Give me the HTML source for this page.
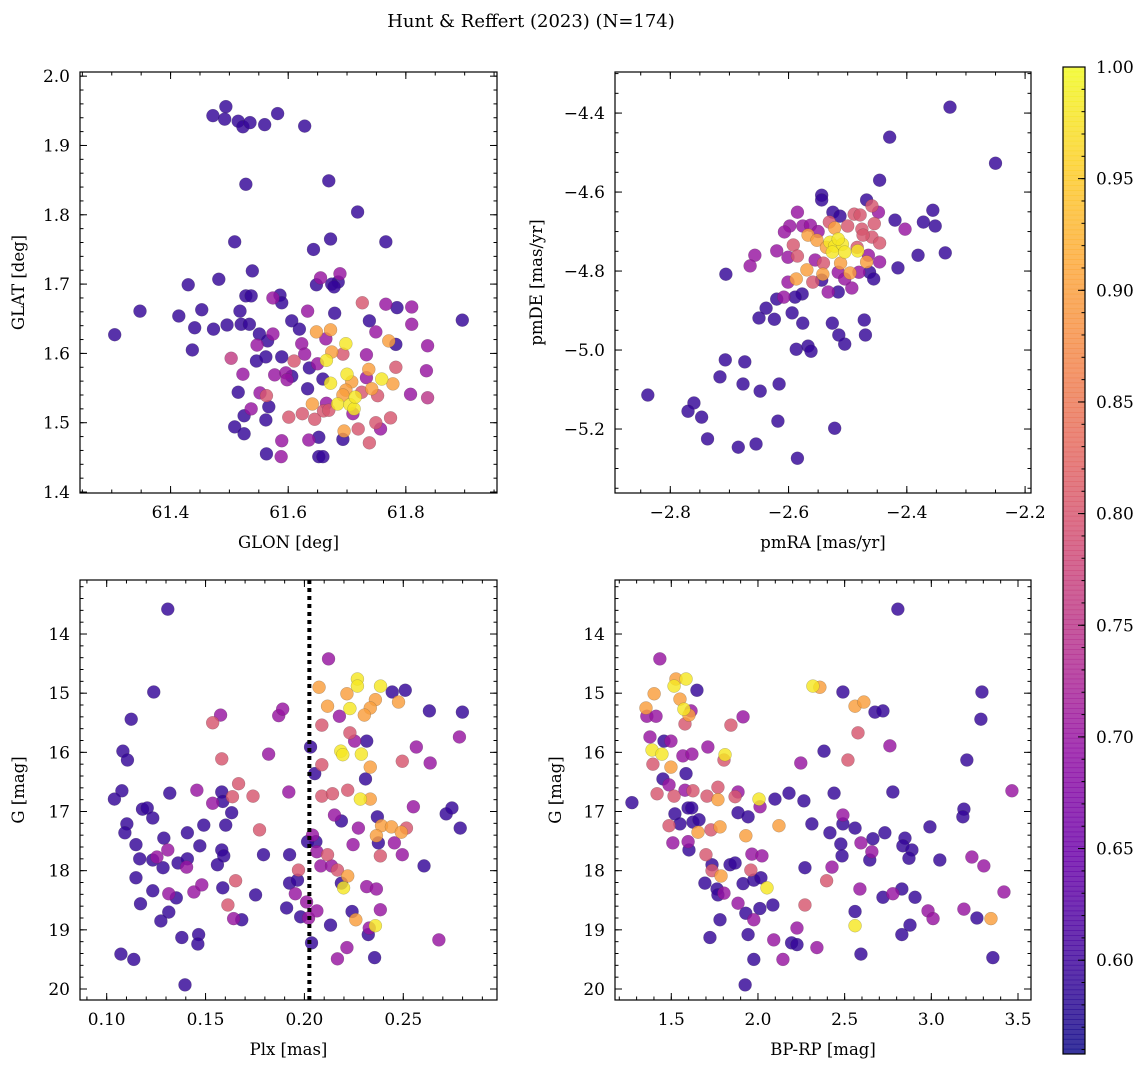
<!DOCTYPE html>
<html><head><meta charset="utf-8"><style>
html,body{margin:0;padding:0;background:#fff;}
svg{display:block;font-family:"DejaVu Serif","Liberation Serif",serif;}
</style></head><body>
<svg id="fig" width="1148" height="1067" viewBox="0 0 1148 1067" xmlns="http://www.w3.org/2000/svg">
<text x="531" y="27" font-size="18" text-anchor="middle">Hunt &amp; Reffert (2023) (N=174)</text>
</svg>
<script>
const d=0.59,m=0.70,pk=0.80,o=0.90,y=0.98;
const rowsGlonGlat=[[61.472,1.943,d],[61.494,1.956,d],[61.492,1.938,d],[61.515,1.935,d],[61.523,1.927,d],[61.535,1.933,d],[61.560,1.930,d],[61.582,1.946,d],[61.628,1.928,d],[61.528,1.844,d],[61.669,1.849,d],[61.718,1.804,d],[61.509,1.761,d],[61.672,1.765,d],[61.766,1.761,d],[61.643,1.750,d],[61.539,1.719,d],[61.430,1.699,d],[61.685,1.703,d],[61.648,1.699,d],[61.655,1.709,m],[61.674,1.700,d],[61.482,1.707,d],[61.528,1.683,d],[61.537,1.683,d],[61.574,1.680,m],[61.586,1.684,d],[61.589,1.673,d],[61.348,1.661,d],[61.305,1.627,d],[61.414,1.654,d],[61.453,1.663,d],[61.441,1.637,d],[61.437,1.605,d],[61.473,1.635,d],[61.496,1.641,d],[61.518,1.661,d],[61.520,1.642,d],[61.534,1.642,d],[61.551,1.628,d],[61.574,1.628,m],[61.547,1.612,m],[61.565,1.618,d],[61.503,1.593,0.76],[61.546,1.589,d],[61.562,1.595,d],[61.589,1.595,d],[61.606,1.647,d],[61.619,1.635,d],[61.633,1.661,m],[61.678,1.696,d],[61.688,1.715,m],[61.679,1.658,d],[61.726,1.673,pk],[61.766,1.671,m],[61.785,1.666,d],[61.810,1.667,m],[61.810,1.642,m],[61.738,1.647,d],[61.749,1.631,m],[61.896,1.648,d],[61.837,1.611,m],[61.835,1.575,m],[61.837,1.536,0.75],[61.808,1.541,m],[61.783,1.613,d],[61.771,1.618,o],[61.783,1.580,pk],[61.778,1.556,o],[61.774,1.507,pk],[61.749,1.500,pk],[61.757,1.491,m],[61.738,1.471,pk],[61.719,1.491,pk],[61.693,1.476,d],[61.695,1.488,o],[61.652,1.479,d],[61.635,1.475,m],[61.652,1.451,d],[61.659,1.451,d],[61.589,1.474,m],[61.588,1.451,m],[61.563,1.455,d],[61.601,1.508,pk],[61.624,1.513,pk],[61.645,1.505,pk],[61.660,1.517,pk],[61.641,1.527,o],[61.684,1.527,y],[61.705,1.526,y],[61.712,1.520,y],[61.710,1.513,m],[61.665,1.528,m],[61.509,1.494,d],[61.525,1.484,d],[61.525,1.510,d],[61.537,1.520,m],[61.562,1.504,d],[61.567,1.523,d],[61.515,1.544,d],[61.552,1.543,m],[61.563,1.539,pk],[61.523,1.570,m],[61.577,1.569,m],[61.596,1.572,m],[61.598,1.562,m],[61.606,1.567,d],[61.610,1.589,pk],[61.623,1.614,m],[61.628,1.599,m],[61.636,1.579,d],[61.633,1.549,d],[61.648,1.631,o],[61.672,1.634,o],[61.664,1.621,m],[61.650,1.585,m],[61.665,1.590,y],[61.698,1.614,y],[61.674,1.602,o],[61.693,1.599,pk],[61.733,1.598,m],[61.659,1.563,d],[61.672,1.557,y],[61.700,1.570,y],[61.737,1.577,o],[61.759,1.563,y],[61.742,1.549,o],[61.708,1.559,o],[61.698,1.547,o],[61.714,1.537,y],[61.725,1.544,pk],[61.752,1.539,pk],[61.693,1.540,o],[61.733,1.565,m],[61.669,1.518,pk]];
const rowsPm=[[-2.327,-4.385,d],[-2.429,-4.461,d],[-2.250,-4.527,d],[-2.446,-4.570,d],[-2.544,-4.608,d],[-2.544,-4.620,d],[-2.468,-4.620,d],[-2.356,-4.646,d],[-2.372,-4.676,d],[-2.352,-4.686,d],[-2.420,-4.671,d],[-2.403,-4.694,m],[-2.381,-4.760,d],[-2.335,-4.754,d],[-2.415,-4.792,d],[-2.585,-4.651,m],[-2.525,-4.651,d],[-2.489,-4.656,pk],[-2.479,-4.658,pk],[-2.459,-4.635,pk],[-2.448,-4.651,m],[-2.598,-4.686,m],[-2.607,-4.701,m],[-2.576,-4.686,m],[-2.563,-4.684,m],[-2.620,-4.749,m],[-2.592,-4.734,pk],[-2.567,-4.709,o],[-2.552,-4.722,o],[-2.531,-4.676,pk],[-2.522,-4.691,o],[-2.513,-4.661,d],[-2.500,-4.686,pk],[-2.476,-4.694,pk],[-2.459,-4.714,pk],[-2.446,-4.729,pk],[-2.474,-4.709,pk],[-2.550,-4.70,m],[-2.484,-4.74,pk],[-2.465,-4.76,m],[-2.541,-4.78,pk],[-2.512,-4.78,o],[-2.455,-4.68,pk],[-2.530,-4.727,y],[-2.522,-4.737,y],[-2.509,-4.732,y],[-2.526,-4.752,y],[-2.505,-4.752,y],[-2.483,-4.749,y],[-2.516,-4.719,y],[-2.536,-4.740,o],[-2.657,-4.760,m],[-2.665,-4.787,m],[-2.706,-4.808,d],[-2.601,-4.765,m],[-2.585,-4.762,pk],[-2.555,-4.772,m],[-2.569,-4.797,o],[-2.542,-4.808,o],[-2.587,-4.820,o],[-2.601,-4.828,m],[-2.559,-4.828,pk],[-2.544,-4.823,d],[-2.516,-4.803,m],[-2.496,-4.805,o],[-2.481,-4.803,m],[-2.468,-4.777,o],[-2.446,-4.777,m],[-2.463,-4.803,d],[-2.456,-4.820,d],[-2.493,-4.843,m],[-2.516,-4.853,d],[-2.533,-4.853,m],[-2.505,-4.820,m],[-2.577,-4.858,d],[-2.589,-4.866,d],[-2.608,-4.866,m],[-2.620,-4.871,d],[-2.638,-4.894,d],[-2.650,-4.919,d],[-2.624,-4.922,d],[-2.594,-4.906,d],[-2.576,-4.932,d],[-2.526,-4.932,d],[-2.472,-4.924,d],[-2.515,-4.962,d],[-2.505,-4.985,d],[-2.470,-4.962,d],[-2.587,-4.998,d],[-2.567,-4.990,d],[-2.562,-5.003,d],[-2.707,-5.025,d],[-2.674,-5.030,d],[-2.716,-5.068,d],[-2.677,-5.086,d],[-2.648,-5.104,d],[-2.616,-5.086,d],[-2.838,-5.114,d],[-2.760,-5.134,d],[-2.770,-5.155,d],[-2.747,-5.170,d],[-2.618,-5.180,d],[-2.522,-5.198,d],[-2.737,-5.225,d],[-2.685,-5.246,d],[-2.655,-5.238,d],[-2.585,-5.274,d]];
const rowsPlxG=[[0.1309,13.58,d],[0.1238,14.98,d],[0.1124,15.44,d],[0.1082,15.98,d],[0.1105,16.13,d],[0.1077,16.65,d],[0.1039,16.79,d],[0.1319,16.69,d],[0.1181,16.96,d],[0.1205,16.94,d],[0.1233,17.11,d],[0.1102,17.21,d],[0.1092,17.36,d],[0.1148,17.56,d],[0.1289,17.45,d],[0.1309,17.65,m],[0.1408,17.36,d],[0.1491,17.23,d],[0.1471,17.58,d],[0.1167,17.80,d],[0.1233,17.82,d],[0.1254,17.77,m],[0.1285,17.95,d],[0.1361,17.87,d],[0.1408,17.80,d],[0.1404,17.94,m],[0.1148,18.12,d],[0.1233,18.34,d],[0.1314,18.39,m],[0.1352,18.46,d],[0.1441,18.36,m],[0.1481,18.24,m],[0.1171,18.56,d],[0.1314,18.70,d],[0.1274,18.85,d],[0.1380,19.13,d],[0.1465,19.08,d],[0.1461,19.24,d],[0.1072,19.41,d],[0.1137,19.50,d],[0.1396,19.93,d],[0.1536,15.50,pk],[0.1576,15.37,m],[0.1582,16.11,pk],[0.1456,16.64,m],[0.1582,16.67,d],[0.1536,16.86,m],[0.1587,16.83,d],[0.1667,16.53,pk],[0.1636,16.75,pk],[0.1740,16.74,pk],[0.1632,17.02,d],[0.1602,17.23,d],[0.1773,17.31,pk],[0.1582,17.65,d],[0.1592,17.75,d],[0.1560,17.90,d],[0.1793,17.73,d],[0.1925,17.73,d],[0.1652,18.17,pk],[0.1587,18.29,d],[0.1753,18.41,d],[0.1613,18.58,pk],[0.1642,18.81,m],[0.1683,18.83,d],[0.1819,16.03,m],[0.1870,15.38,m],[0.1890,15.27,m],[0.1921,16.67,m],[0.1910,18.63,d],[0.1925,18.21,d],[0.1965,18.16,d],[0.1970,17.99,pk],[0.1954,18.39,m],[0.1981,18.78,d],[0.2011,18.53,m],[0.2021,18.80,m],[0.2016,17.51,d],[0.2031,15.91,d],[0.2052,16.36,d],[0.2041,17.40,m],[0.2058,17.51,d],[0.2063,17.68,m],[0.2063,18.68,m],[0.2036,19.22,d],[0.2122,14.42,m],[0.2074,14.90,o],[0.2117,15.22,o],[0.2177,15.39,m],[0.2215,15.01,o],[0.2268,14.76,y],[0.2268,14.88,y],[0.2230,15.26,y],[0.2385,14.88,y],[0.2359,15.11,o],[0.2333,15.25,o],[0.2303,15.37,o],[0.2444,14.98,d],[0.2510,14.95,d],[0.2476,15.15,o],[0.2632,15.30,d],[0.2799,15.32,d],[0.2784,15.74,m],[0.2088,15.54,pk],[0.2230,15.67,pk],[0.2254,15.81,m],[0.2315,15.81,d],[0.2184,15.98,y],[0.2194,16.04,y],[0.2288,16.03,y],[0.2333,16.25,o],[0.2088,16.21,pk],[0.2495,16.15,pk],[0.2566,15.91,m],[0.2636,16.18,m],[0.2309,16.45,d],[0.2088,16.74,pk],[0.2142,16.70,pk],[0.2219,16.64,pk],[0.2283,16.79,y],[0.2333,16.79,o],[0.2551,16.92,m],[0.2717,17.04,d],[0.2746,16.94,d],[0.2788,17.28,d],[0.2152,17.06,m],[0.2187,17.16,d],[0.2273,17.28,m],[0.2369,17.09,d],[0.2390,17.24,o],[0.2440,17.26,o],[0.2516,17.28,pk],[0.2490,17.35,o],[0.2364,17.41,o],[0.2374,17.53,d],[0.2455,17.53,m],[0.2246,17.56,m],[0.2384,17.75,pk],[0.2495,17.73,m],[0.2605,17.92,d],[0.2117,17.73,pk],[0.2083,17.92,m],[0.2137,17.92,m],[0.2167,17.99,pk],[0.2219,18.09,o],[0.2187,18.21,d],[0.2198,18.29,y],[0.2315,18.27,m],[0.2364,18.31,m],[0.2384,18.66,m],[0.2241,18.69,d],[0.2260,18.83,o],[0.2132,18.92,d],[0.2328,18.97,m],[0.2359,18.93,y],[0.2323,19.08,d],[0.2680,19.17,m],[0.2215,19.30,m],[0.2167,19.49,m],[0.2355,19.47,d]];
const rowsColorG=[[2.807,13.58,d],[1.434,14.42,m],[1.527,14.76,o],[1.585,14.76,y],[1.516,14.88,y],[1.401,15.01,o],[1.648,14.95,d],[1.354,15.25,o],[1.550,15.10,o],[1.573,15.27,y],[1.614,15.30,m],[1.602,15.37,o],[1.359,15.39,m],[1.412,15.39,m],[1.579,15.52,pk],[1.844,15.54,pk],[1.914,15.40,m],[2.317,14.88,y],[2.357,14.90,o],[2.490,14.98,d],[2.560,15.22,o],[2.611,15.15,o],[2.675,15.32,d],[2.721,15.30,d],[3.292,14.98,d],[3.286,15.44,d],[1.377,15.74,m],[1.458,15.81,d],[1.498,15.81,m],[1.389,15.96,y],[1.446,16.03,y],[1.567,16.06,m],[1.619,16.03,m],[1.711,15.91,m],[1.810,16.04,y],[1.804,16.13,pk],[1.394,16.20,pk],[1.498,16.25,o],[1.585,16.36,d],[1.452,16.45,d],[1.487,16.55,m],[1.418,16.70,pk],[1.516,16.74,pk],[1.579,16.64,m],[1.625,16.65,pk],[1.706,16.74,pk],[1.769,16.59,pk],[1.769,16.80,o],[1.868,16.75,pk],[1.885,16.67,m],[2.006,16.79,y],[2.012,16.92,m],[2.098,16.79,d],[2.179,16.69,d],[2.265,16.82,d],[2.439,16.69,d],[2.519,16.13,pk],[2.381,15.98,d],[2.247,16.18,m],[2.577,15.67,pk],[2.761,15.89,m],[3.205,16.13,d],[2.778,16.67,d],[3.465,16.65,m],[1.273,16.85,d],[1.521,17.04,d],[1.597,16.94,d],[1.618,16.94,d],[1.487,17.24,pk],[1.550,17.21,d],[1.625,17.18,d],[1.660,17.14,d],[1.654,17.35,o],[1.729,17.31,pk],[1.781,17.26,o],[1.885,17.02,d],[1.943,17.09,d],[1.930,17.41,o],[2.121,17.24,o],[2.311,17.21,d],[2.415,17.36,d],[2.490,17.21,d],[2.490,17.06,m],[2.560,17.28,d],[2.478,17.55,d],[2.594,17.53,m],[2.663,17.46,d],[2.732,17.36,d],[2.657,17.68,m],[2.645,17.82,d],[2.485,17.75,d],[2.427,17.94,m],[2.271,17.95,d],[2.848,17.45,d],[2.836,17.58,d],[2.888,17.65,d],[2.871,17.79,d],[2.992,17.26,d],[3.049,17.82,d],[3.188,16.96,d],[3.182,17.09,d],[3.234,17.77,m],[3.303,17.92,m],[3.419,18.36,m],[1.509,17.53,m],[1.597,17.51,m],[1.602,17.65,d],[1.700,17.73,pk],[1.735,17.90,d],[1.735,18.00,pk],[1.787,18.09,o],[1.839,17.90,d],[1.868,17.87,d],[1.965,17.72,m],[2.023,17.75,m],[1.959,17.99,pk],[1.914,18.22,d],[1.976,18.16,d],[2.017,18.12,d],[2.052,18.29,y],[1.694,18.21,d],[1.764,18.31,d],[1.804,18.38,m],[1.769,18.41,d],[1.885,18.55,m],[1.930,18.72,d],[1.976,18.83,m],[2.011,18.64,d],[2.086,18.58,d],[2.271,18.58,pk],[2.396,18.17,pk],[2.588,18.31,m],[2.560,18.69,d],[2.560,18.93,y],[2.721,18.45,d],[2.778,18.39,m],[2.830,18.31,d],[2.906,18.45,d],[2.981,18.68,m],[3.010,18.81,m],[3.188,18.65,m],[3.263,18.80,d],[3.344,18.81,o],[2.877,18.92,d],[2.830,19.08,d],[1.781,18.83,d],[2.225,18.97,m],[1.723,19.13,d],[1.943,19.08,d],[2.091,19.17,m],[2.194,19.22,d],[2.225,19.25,d],[2.340,19.30,m],[2.594,19.41,d],[1.976,19.50,d],[2.144,19.50,m],[1.926,19.93,d],[3.355,19.47,d]];
const glon=rowsGlonGlat.map(r=>r[0]), glat=rowsGlonGlat.map(r=>r[1]), probA=rowsGlonGlat.map(r=>r[2]);
const pmra=rowsPm.map(r=>r[0]), pmde=rowsPm.map(r=>r[1]), probB=rowsPm.map(r=>r[2]);
const plx=rowsPlxG.map(r=>r[0]), gmagC=rowsPlxG.map(r=>r[1]), probC=rowsPlxG.map(r=>r[2]);
const bprp=rowsColorG.map(r=>r[0]), gmagD=rowsColorG.map(r=>r[1]), probD=rowsColorG.map(r=>r[2]);
const plxCut=0.2025;
const cbTicks=[0.60,0.65,0.70,0.75,0.80,0.85,0.90,0.95,1.00];

const NS="http://www.w3.org/2000/svg";
const svg=document.getElementById('fig');
function el(tag,attrs,parent){const e=document.createElementNS(NS,tag);for(const k in attrs)e.setAttribute(k,attrs[k]);(parent||svg).appendChild(e);return e;}
const plasma=[[13,8,135],[65,4,157],[106,0,168],[143,13,164],[177,42,144],[204,71,120],[225,100,98],[242,132,75],[252,166,54],[252,206,37],[240,249,33]];
const vmin=0.558,vmax=1.0;
function cmap(v){let t=(v-vmin)/(vmax-vmin);t=Math.max(0,Math.min(1,t));const s=t*10,i=Math.min(9,Math.floor(s)),f=s-i;const a=plasma[i],b=plasma[i+1];return 'rgb('+a.map((c,k)=>Math.round(c+(b[k]-c)*f)).join(',')+')';}
function fmt(v,dec){const s=Math.abs(v).toFixed(dec);return (v<-1e-9?'\u2212':'')+s;}

function panel(cfg){
  const g=el('g',{});
  
  
  const sx=v=>cfg.x0+(v-cfg.xmin)/(cfg.xmax-cfg.xmin)*(cfg.x1-cfg.x0);
  const sy=cfg.invert?(v=>cfg.y0+(v-cfg.ymin)/(cfg.ymax-cfg.ymin)*(cfg.y1-cfg.y0)):(v=>cfg.y1-(v-cfg.ymin)/(cfg.ymax-cfg.ymin)*(cfg.y1-cfg.y0));
  const pts=el('g',{},g);
  
  
  const idx=cfg.xs.map((_,i)=>i).sort((a,b)=>cfg.ps[a]-cfg.ps[b]);
  idx.forEach(i=>{
    const c=el('circle',{cx:sx(cfg.xs[i]),cy:sy(cfg.ys[i]),r:6.5,fill:cmap(cfg.ps[i]),'fill-opacity':0.82,stroke:'rgba(60,60,60,0.35)','stroke-width':0.5},pts);
    
    
  });
  if(cfg.vline!==undefined){
    const l=el('line',{x1:sx(cfg.vline),x2:sx(cfg.vline),y1:cfg.y0,y2:cfg.y1,stroke:'#000','stroke-width':4,'stroke-dasharray':'4 4'},g);
    
    
  }
  const fr=el('rect',{x:cfg.x0,y:cfg.y0,width:cfg.x1-cfg.x0,height:cfg.y1-cfg.y0,fill:'none',stroke:'#000','stroke-width':1.2},g);
  
  
  const tk=el('g',{stroke:'#000','stroke-width':1},g);
  
  
  const eps=1e-9;
  for(let v=Math.ceil(cfg.xmin/cfg.xminor-eps)*cfg.xminor;v<=cfg.xmax+eps;v+=cfg.xminor){const X=sx(v);el('line',{x1:X,x2:X,y1:cfg.y1,y2:cfg.y1-3.5},tk);el('line',{x1:X,x2:X,y1:cfg.y0,y2:cfg.y0+3.5},tk);}
  for(let v=Math.ceil(cfg.ymin/cfg.yminor-eps)*cfg.yminor;v<=cfg.ymax+eps;v+=cfg.yminor){const Y=sy(v);el('line',{x1:cfg.x0,x2:cfg.x0+3.5,y1:Y,y2:Y},tk);el('line',{x1:cfg.x1,x2:cfg.x1-3.5,y1:Y,y2:Y},tk);}
  cfg.xticks.forEach(v=>{const X=sx(v);el('line',{x1:X,x2:X,y1:cfg.y1,y2:cfg.y1-7},tk);el('line',{x1:X,x2:X,y1:cfg.y0,y2:cfg.y0+7},tk);
    const t=el('text',{x:X,y:cfg.y1+25,'font-size':17,'text-anchor':'middle'},g);t.textContent=fmt(v,cfg.xdec);
    
    });
  cfg.yticks.forEach(v=>{const Y=sy(v);el('line',{x1:cfg.x0,x2:cfg.x0+7,y1:Y,y2:Y},tk);el('line',{x1:cfg.x1,x2:cfg.x1-7,y1:Y,y2:Y},tk);
    const t=el('text',{x:cfg.x0-10,y:Y+6,'font-size':17,'text-anchor':'end'},g);t.textContent=fmt(v,cfg.ydec);
    
    });
  const xl=el('text',{x:(cfg.x0+cfg.x1)/2,y:cfg.y1+55,'font-size':16.5,'text-anchor':'middle'},g);xl.textContent=cfg.xlabel;
  
  
  const cy=(cfg.y0+cfg.y1)/2;
  const yl=el('text',{x:cfg.ylx,y:cy,'font-size':16.5,'text-anchor':'middle',transform:'rotate(-90 '+cfg.ylx+' '+cy+')'},g);yl.textContent=cfg.ylabel;
  
  
}
panel({name:'glon-glat-panel',x0:80,x1:497,y0:72,y1:493,xmin:61.246,xmax:61.955,ymin:1.3986,ymax:2.006,xs:glon,ys:glat,ps:probA,xticks:[61.4,61.6,61.8],xminor:0.05,xdec:1,yticks:[1.4,1.5,1.6,1.7,1.8,1.9,2.0],yminor:0.02,ydec:1,xlabel:'GLON [deg]',ylabel:'GLAT [deg]',ylx:24});
panel({name:'proper-motion-panel',x0:615,x1:1031,y0:72,y1:493,xmin:-2.8935,xmax:-2.190,ymin:-5.362,ymax:-4.296,xs:pmra,ys:pmde,ps:probB,xticks:[-2.8,-2.6,-2.4,-2.2],xminor:0.05,xdec:1,yticks:[-5.2,-5.0,-4.8,-4.6,-4.4],yminor:0.05,ydec:1,xlabel:'pmRA [mas/yr]',ylabel:'pmDE [mas/yr]',ylx:542});
panel({name:'parallax-magnitude-panel',x0:80,x1:497,y0:580,y1:1000,xmin:0.0865,xmax:0.2974,ymin:13.087,ymax:20.186,invert:true,xs:plx,ys:gmagC,ps:probC,vline:plxCut,xticks:[0.10,0.15,0.20,0.25],xminor:0.01,xdec:2,yticks:[14,15,16,17,18,19,20],yminor:0.2,ydec:0,xlabel:'Plx [mas]',ylabel:'G [mag]',ylx:24});
panel({name:'color-magnitude-panel',x0:615,x1:1031,y0:580,y1:1000,xmin:1.1753,xmax:3.575,ymin:13.087,ymax:20.186,invert:true,xs:bprp,ys:gmagD,ps:probD,xticks:[1.5,2.0,2.5,3.0,3.5],xminor:0.1,xdec:1,yticks:[14,15,16,17,18,19,20],yminor:0.2,ydec:0,xlabel:'BP-RP [mag]',ylabel:'G [mag]',ylx:561});

// colorbar
const cb=el('g',{});


const cbx=1063,cbw=22,cby0=67,cby1=1054;
const cbv=v=>cby1-(v-vmin)/(vmax-vmin)*(cby1-cby0);
const N=200;
for(let i=0;i<N;i++){const v0=vmin+(vmax-vmin)*i/N,v1=vmin+(vmax-vmin)*(i+1)/N;el('rect',{x:cbx,y:cbv(v1)-0.3,width:cbw,height:cbv(v0)-cbv(v1)+0.6,fill:cmap((v0+v1)/2),'fill-opacity':0.82},cb);}
el('rect',{x:cbx,y:cby0,width:cbw,height:cby1-cby0,fill:'none',stroke:'#000','stroke-width':1.2},cb);
for(let k=56;k<=100;k++){const v=k/100;const Y=cbv(v);el('line',{x1:cbx+cbw,x2:cbx+cbw-3.5,y1:Y,y2:Y,stroke:'#000','stroke-width':1},cb);}
cbTicks.forEach(v=>{const Y=cbv(v);el('line',{x1:cbx+cbw,x2:cbx+cbw-7,y1:Y,y2:Y,stroke:'#000','stroke-width':1},cb);
  const t=el('text',{x:cbx+cbw+11,y:Y+6,'font-size':17},cb);t.textContent=v.toFixed(2);
  
  });
</script>
</body></html>
